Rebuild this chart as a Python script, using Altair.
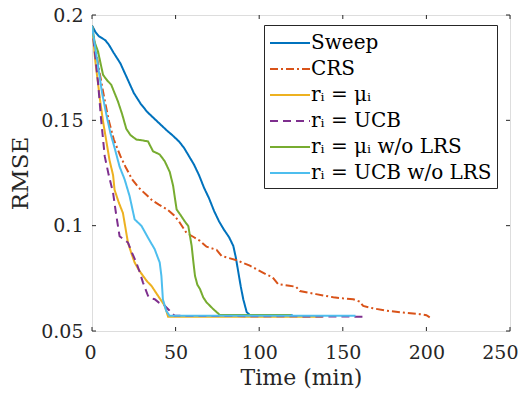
import altair as alt
import pandas as pd

series_names = ["Sweep", "CRS", "rᵢ = μᵢ", "rᵢ = UCB", "rᵢ = μᵢ w/o LRS", "rᵢ = UCB w/o LRS"]
colors = ["#0072BD", "#D95319", "#EDB120", "#7E2F8E", "#77AC30", "#4DBEEE"]
dashes = [[1, 0], [8, 3, 2, 3], [1, 0], [8, 5], [1, 0], [1, 0]]

sweep_t = [0, 2, 4, 8, 10, 13, 17, 21, 25, 29, 33, 37, 41, 45, 48, 52, 55, 58, 61, 64, 67, 70, 73,
           76, 79, 82, 84.5, 86, 87.5, 89, 90.5, 92.5, 94.5, 120]
sweep_v = [0.195, 0.192, 0.190, 0.188, 0.186, 0.182, 0.177, 0.170, 0.163, 0.158, 0.154, 0.151, 0.148,
           0.145, 0.143, 0.140, 0.137, 0.133, 0.129, 0.124, 0.118, 0.113, 0.107, 0.102, 0.098, 0.0945,
           0.0904, 0.085, 0.078, 0.071, 0.065, 0.059, 0.0575, 0.0575]

crs_t = [0, 2, 4, 7, 10, 13, 17, 20, 24, 28, 32, 36, 40, 45, 49, 52, 56.5, 61, 64.6, 68.5, 74.5, 77.5,
         86.5, 94.4, 104.4, 108, 111.4, 118, 122, 124.3, 134, 144.3, 150, 156.2, 160, 162.2, 168, 176,
         186, 196, 200, 202]
crs_v = [0.195, 0.185, 0.175, 0.162, 0.150, 0.141, 0.133, 0.128, 0.122, 0.118, 0.115, 0.112, 0.110,
         0.1077, 0.105, 0.102, 0.0966, 0.0945, 0.0928, 0.090, 0.0885, 0.0856, 0.0836, 0.081, 0.0768,
         0.0755, 0.0722, 0.0715, 0.071, 0.069, 0.0675, 0.066, 0.0655, 0.0651, 0.064, 0.0619, 0.0608,
         0.0596, 0.0588, 0.058, 0.0575, 0.0565]

mu_t = [0, 2, 4.6, 6.5, 8.6, 10.5, 12.6, 13.5, 16, 18.5, 20, 21.5, 23.5, 25.5, 28, 30.5, 33, 35.5,
        39.5, 43.5, 45.5, 138]
mu_v = [0.195, 0.178, 0.161, 0.150, 0.140, 0.131, 0.124, 0.117, 0.111, 0.106, 0.099, 0.092, 0.087,
        0.0825, 0.079, 0.0762, 0.0735, 0.0715, 0.0667, 0.062, 0.0568, 0.0568]

ucb_t = [0, 2, 3.6, 5.5, 7.6, 10, 12.6, 14.5, 16.5, 19, 21.5, 24, 26.5, 28.5, 30.5, 33.5, 35, 37.5,
         40, 43.5, 46, 49.4, 163.6]
ucb_v = [0.195, 0.180, 0.168, 0.150, 0.133, 0.124, 0.1156, 0.105, 0.095, 0.0935, 0.092, 0.087, 0.0825,
         0.078, 0.073, 0.0667, 0.0655, 0.0651, 0.0635, 0.062, 0.060, 0.0572, 0.0568]

mu_nolrs_t = [0, 1.6, 3.6, 6.6, 9, 11.5, 15.5, 18, 20.5, 23, 26.5, 30, 33.5, 36.5, 40.5, 43.5, 46.5,
              48.5, 50.6, 53, 55.5, 57.6, 59.6, 60.6, 61.6, 63, 64.6, 66.5, 68.5, 72.5, 76.5, 119]
mu_nolrs_v = [0.195, 0.187, 0.1827, 0.1716, 0.169, 0.1669, 0.159, 0.153, 0.146, 0.143, 0.1409, 0.1405,
              0.140, 0.1353, 0.1338, 0.1306, 0.1255, 0.119, 0.1077, 0.105, 0.102, 0.0998, 0.0904, 0.083,
              0.0762, 0.072, 0.0699, 0.066, 0.0636, 0.0604, 0.0576, 0.0576]

ucb_nolrs_t = [0, 2, 3.6, 6, 8.6, 11, 13.5, 16.5, 19.5, 22.5, 25.5, 29.5, 33.5, 37.5, 40.5, 41.5, 42.4,
               44.4, 46.4, 157.6]
ucb_nolrs_v = [0.195, 0.184, 0.176, 0.163, 0.1527, 0.144, 0.137, 0.128, 0.122, 0.114, 0.103, 0.100,
               0.0943, 0.0888, 0.0825, 0.0762, 0.065, 0.0596, 0.0572, 0.0572]

x_ticks = [0, 50, 100, 150, 200, 250]
y_ticks = [0.05, 0.1, 0.15, 0.2]

all_t = [sweep_t, crs_t, mu_t, ucb_t, mu_nolrs_t, ucb_nolrs_t]
all_v = [sweep_v, crs_v, mu_v, ucb_v, mu_nolrs_v, ucb_nolrs_v]

rows = []
for name, ts, vs in zip(series_names, all_t, all_v):
    for i, (t, v) in enumerate(zip(ts, vs)):
        rows.append({"series": name, "t": t, "v": v, "idx": i})
df = pd.DataFrame(rows)

W, H = 418, 316
FONT = "DejaVu Serif"
AX = "#262626"
TL = 4

xscale = alt.Scale(domain=[0, 250], nice=False, zero=False)
yscale = alt.Scale(domain=[0.05, 0.2], nice=False, zero=False)

x_axis = alt.Axis(values=x_ticks, title="Time (min)", ticks=False, grid=False, domain=False,
                  labelFont=FONT, labelFontSize=19, labelColor=AX, labelPadding=12,
                  labelFlush=True, labelFlushOffset=8, labelOverlap=False,
                  titleFont=FONT, titleFontSize=22, titleFontWeight="normal", titleColor=AX,
                  titlePadding=5)
y_axis = alt.Axis(values=y_ticks, format="~g", title="RMSE", ticks=False, grid=False,
                  domain=False, labelFont=FONT, labelFontSize=19, labelColor=AX,
                  labelFlush=False, labelOverlap=False,
                  labelPadding=9, titleFont=FONT, titleFontSize=23, titleFontWeight="normal",
                  titleColor=AX, titlePadding=8)

leg = alt.Legend(title=None, orient="none", legendX=172, legendY=10, offset=0, fillColor="white",
                 strokeColor=AX, padding=5, labelFont=FONT, labelFontSize=20, labelColor="#000000",
                 symbolType="M-1,0H2.3333", symbolSize=576, symbolStrokeWidth=2, symbolOffset=0,
                 rowPadding=3, labelOffset=16, labelLimit=400)

lines = alt.Chart(df).mark_line(strokeWidth=2, clip=True).encode(
    x=alt.X("t:Q", scale=xscale, axis=x_axis),
    y=alt.Y("v:Q", scale=yscale, axis=y_axis),
    color=alt.Color("series:N", scale=alt.Scale(domain=series_names, range=colors),
                    sort=series_names, legend=leg),
    strokeDash=alt.StrokeDash("series:N", scale=alt.Scale(domain=series_names, range=dashes),
                              sort=series_names, legend=leg),
    order="idx:Q",
)

xt = pd.DataFrame({"t": x_ticks})
yt = pd.DataFrame({"v": y_ticks})

xb = alt.Chart(xt).mark_rule(color=AX, strokeWidth=1).encode(
    x=alt.X("t:Q", scale=xscale, axis=x_axis), y=alt.value(H), y2=alt.value(H - TL))
xtop = alt.Chart(xt).mark_rule(color=AX, strokeWidth=1).encode(
    x=alt.X("t:Q", scale=xscale, axis=x_axis), y=alt.value(0), y2=alt.value(TL))
yl = alt.Chart(yt).mark_rule(color=AX, strokeWidth=1).encode(
    y=alt.Y("v:Q", scale=yscale, axis=y_axis), x=alt.value(0), x2=alt.value(TL))
yr = alt.Chart(yt).mark_rule(color=AX, strokeWidth=1).encode(
    y=alt.Y("v:Q", scale=yscale, axis=y_axis), x=alt.value(W - TL), x2=alt.value(W))

chart = alt.layer(lines, xb, xtop, yl, yr).properties(
    width=W, height=H,
    autosize=alt.AutoSizeParams(type="none"),
    padding={"left": 84, "top": 7, "right": 10, "bottom": 59},
).configure_view(stroke=AX, strokeWidth=1).configure(background="white")

chart.save("out.html", embed_options={"renderer": "svg", "actions": False})
